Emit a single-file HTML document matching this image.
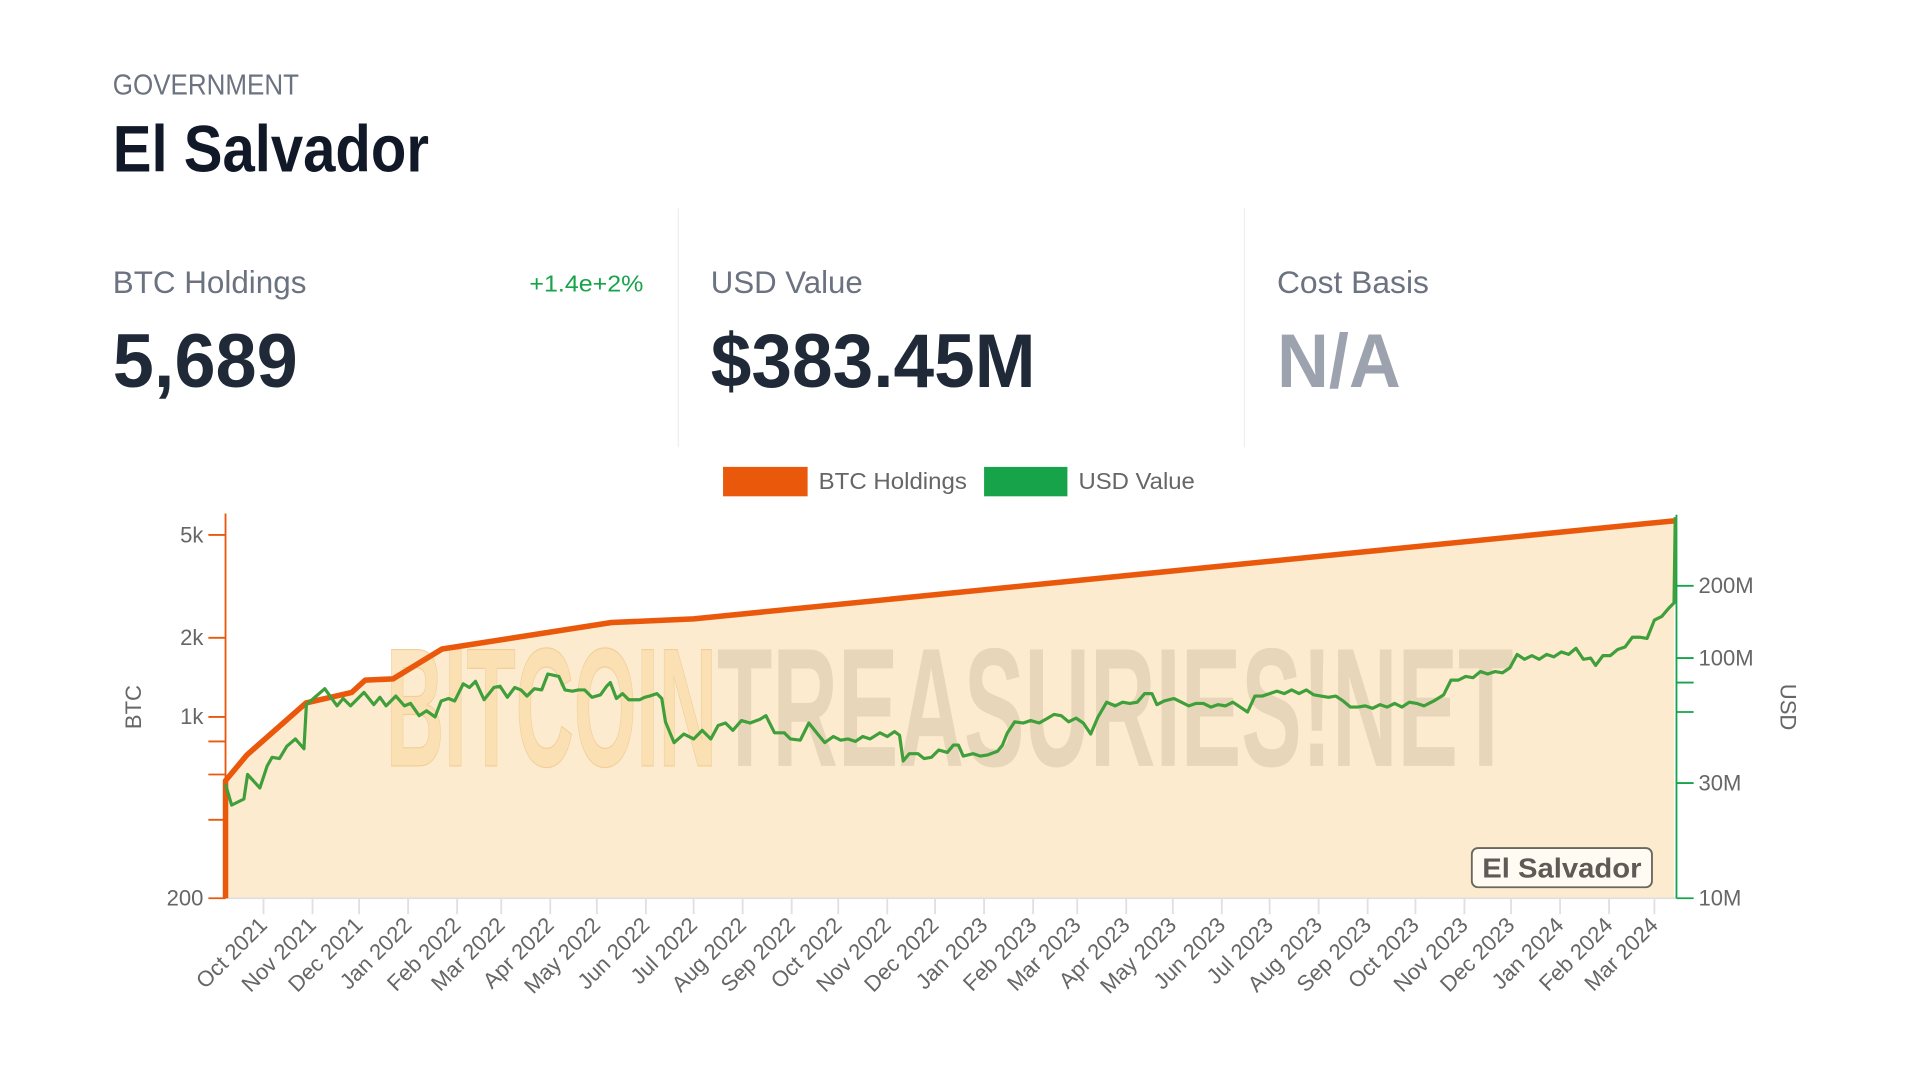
<!DOCTYPE html>
<html><head><meta charset="utf-8"><style>html,body{margin:0;padding:0;background:#fff;}svg{display:block;}</style></head>
<body>
<svg width="1920" height="1080" viewBox="0 0 1566.7 881.3" xmlns="http://www.w3.org/2000/svg" font-family="'Liberation Sans', sans-serif">
<rect width="1566.7" height="881.3" fill="#fff"/>
<text x="92" y="77" font-size="23.5" fill="#6b7280" textLength="152" lengthAdjust="spacingAndGlyphs">GOVERNMENT</text>
<text x="92" y="140" font-size="54" font-weight="bold" fill="#111827" textLength="258" lengthAdjust="spacingAndGlyphs">El Salvador</text>
<line x1="553.5" y1="170" x2="553.5" y2="365" stroke="#eceef1" stroke-width="1"/>
<line x1="1015.5" y1="170" x2="1015.5" y2="365" stroke="#eceef1" stroke-width="1"/>
<text x="92" y="239" font-size="26" fill="#6b7280" textLength="158" lengthAdjust="spacingAndGlyphs">BTC Holdings</text>
<text x="525" y="238" font-size="19" fill="#16a34a" text-anchor="end" textLength="93" lengthAdjust="spacingAndGlyphs">+1.4e+2%</text>
<text x="92" y="316" font-size="62" font-weight="bold" fill="#1f2937" textLength="151" lengthAdjust="spacingAndGlyphs">5,689</text>
<text x="580" y="239" font-size="26" fill="#6b7280" textLength="124" lengthAdjust="spacingAndGlyphs">USD Value</text>
<text x="580" y="316" font-size="62" font-weight="bold" fill="#1f2937" textLength="265" lengthAdjust="spacingAndGlyphs">$383.45M</text>
<text x="1042" y="239" font-size="26" fill="#6b7280" textLength="124" lengthAdjust="spacingAndGlyphs">Cost Basis</text>
<text x="1042" y="316" font-size="62" font-weight="bold" fill="#9ca3af" textLength="101" lengthAdjust="spacingAndGlyphs">N/A</text>
<rect x="590" y="381" width="69" height="24" fill="#ea580c"/>
<text x="668" y="399" font-size="19" fill="#666" textLength="121" lengthAdjust="spacingAndGlyphs">BTC Holdings</text>
<rect x="803" y="381" width="68" height="24" fill="#16a34a"/>
<text x="880" y="399" font-size="19" fill="#666" textLength="95" lengthAdjust="spacingAndGlyphs">USD Value</text>
<polygon fill="#fcebcf" points="184,733 184,637 201.5,616 249.7,573.6 287,565 298,555 320.7,554 360.7,529.6 499,508 566,505 1366,425 1366,733"/>
<g font-size="138" font-weight="bold">
<text x="315" y="625" fill="#fbdca8" fill-opacity="0.7" stroke="#f0cf9a" stroke-width="1" textLength="270" lengthAdjust="spacingAndGlyphs">BITCOIN</text>
<text x="585" y="625" fill="#d8c8ac" fill-opacity="0.6" textLength="650" lengthAdjust="spacingAndGlyphs">TREASURIES!NET</text>
</g>
<line x1="184" y1="733" x2="1368" y2="733" stroke="#e0e0e0" stroke-width="1.5"/>
<g stroke="#e0e0e0" stroke-width="1.5">
<line x1="215" y1="733" x2="215" y2="746"/><line x1="255" y1="733" x2="255" y2="746"/><line x1="293" y1="733" x2="293" y2="746"/><line x1="333" y1="733" x2="333" y2="746"/><line x1="373" y1="733" x2="373" y2="746"/><line x1="409" y1="733" x2="409" y2="746"/><line x1="449" y1="733" x2="449" y2="746"/><line x1="487" y1="733" x2="487" y2="746"/><line x1="527" y1="733" x2="527" y2="746"/><line x1="566" y1="733" x2="566" y2="746"/><line x1="606" y1="733" x2="606" y2="746"/><line x1="646" y1="733" x2="646" y2="746"/><line x1="684" y1="733" x2="684" y2="746"/><line x1="724" y1="733" x2="724" y2="746"/><line x1="763" y1="733" x2="763" y2="746"/><line x1="803" y1="733" x2="803" y2="746"/><line x1="843" y1="733" x2="843" y2="746"/><line x1="879" y1="733" x2="879" y2="746"/><line x1="919" y1="733" x2="919" y2="746"/><line x1="957" y1="733" x2="957" y2="746"/><line x1="997" y1="733" x2="997" y2="746"/><line x1="1036" y1="733" x2="1036" y2="746"/><line x1="1076" y1="733" x2="1076" y2="746"/><line x1="1116" y1="733" x2="1116" y2="746"/><line x1="1155" y1="733" x2="1155" y2="746"/><line x1="1195" y1="733" x2="1195" y2="746"/><line x1="1233" y1="733" x2="1233" y2="746"/><line x1="1273" y1="733" x2="1273" y2="746"/><line x1="1313" y1="733" x2="1313" y2="746"/><line x1="1350" y1="733" x2="1350" y2="746"/>
</g>
<g font-size="18" fill="#666" text-anchor="end">
<text transform="translate(219,756) rotate(-45)">Oct 2021</text>
<text transform="translate(259,756) rotate(-45)">Nov 2021</text>
<text transform="translate(297,756) rotate(-45)">Dec 2021</text>
<text transform="translate(337,756) rotate(-45)">Jan 2022</text>
<text transform="translate(377,756) rotate(-45)">Feb 2022</text>
<text transform="translate(413,756) rotate(-45)">Mar 2022</text>
<text transform="translate(453,756) rotate(-45)">Apr 2022</text>
<text transform="translate(491,756) rotate(-45)">May 2022</text>
<text transform="translate(531,756) rotate(-45)">Jun 2022</text>
<text transform="translate(570,756) rotate(-45)">Jul 2022</text>
<text transform="translate(610,756) rotate(-45)">Aug 2022</text>
<text transform="translate(650,756) rotate(-45)">Sep 2022</text>
<text transform="translate(688,756) rotate(-45)">Oct 2022</text>
<text transform="translate(728,756) rotate(-45)">Nov 2022</text>
<text transform="translate(767,756) rotate(-45)">Dec 2022</text>
<text transform="translate(807,756) rotate(-45)">Jan 2023</text>
<text transform="translate(847,756) rotate(-45)">Feb 2023</text>
<text transform="translate(883,756) rotate(-45)">Mar 2023</text>
<text transform="translate(923,756) rotate(-45)">Apr 2023</text>
<text transform="translate(961,756) rotate(-45)">May 2023</text>
<text transform="translate(1001,756) rotate(-45)">Jun 2023</text>
<text transform="translate(1040,756) rotate(-45)">Jul 2023</text>
<text transform="translate(1080,756) rotate(-45)">Aug 2023</text>
<text transform="translate(1120,756) rotate(-45)">Sep 2023</text>
<text transform="translate(1159,756) rotate(-45)">Oct 2023</text>
<text transform="translate(1199,756) rotate(-45)">Nov 2023</text>
<text transform="translate(1237,756) rotate(-45)">Dec 2023</text>
<text transform="translate(1277,756) rotate(-45)">Jan 2024</text>
<text transform="translate(1317,756) rotate(-45)">Feb 2024</text>
<text transform="translate(1354,756) rotate(-45)">Mar 2024</text>
</g>
<g stroke="#ea580c" stroke-width="1.5">
<line x1="184" y1="419" x2="184" y2="733"/>
<line x1="170" y1="436.5" x2="184" y2="436.5"/><line x1="170" y1="520.5" x2="184" y2="520.5"/><line x1="170" y1="585" x2="184" y2="585"/><line x1="170" y1="605" x2="184" y2="605"/><line x1="170" y1="632" x2="184" y2="632"/><line x1="170" y1="669" x2="184" y2="669"/><line x1="170" y1="733" x2="184" y2="733"/>
</g>
<g font-size="18" fill="#666" text-anchor="end">
<text x="166" y="442.5">5k</text><text x="166" y="526.5">2k</text><text x="166" y="591">1k</text><text x="166" y="739">200</text>
</g>
<text transform="translate(115,577) rotate(-90)" font-size="18" fill="#666" text-anchor="middle">BTC</text>
<g stroke="#16a34a" stroke-width="1.5">
<line x1="1368" y1="420" x2="1368" y2="733"/>
<line x1="1368" y1="478" x2="1382" y2="478"/><line x1="1368" y1="537" x2="1382" y2="537"/><line x1="1368" y1="557" x2="1382" y2="557"/><line x1="1368" y1="581" x2="1382" y2="581"/><line x1="1368" y1="639" x2="1382" y2="639"/><line x1="1368" y1="733" x2="1382" y2="733"/>
</g>
<g font-size="18" fill="#666">
<text x="1386" y="484">200M</text><text x="1386" y="543">100M</text><text x="1386" y="645">30M</text><text x="1386" y="739">10M</text>
</g>
<text transform="translate(1453,577) rotate(90)" font-size="18" fill="#666" text-anchor="middle">USD</text>
<polyline fill="none" stroke="#ea580c" stroke-width="4.5" stroke-linejoin="round" points="184,733 184,637 201.5,616 249.7,573.6 287,565 298,555 320.7,554 360.7,529.6 499,508 566,505 1366,425"/>
<polyline fill="none" stroke="#3f9f3a" stroke-width="2.6" stroke-linejoin="round" points="184,640 189,657 199,652 202,632 212,643 218,625 222,618 228,619 234,609 241,603 248,611 250,575 265,562 275,576 280,570 286,576 297,565 305,575 310,569 315,576 323,568 330,576 335,574 342,584 348,580 355,585 360,572 366,570 371,572 378,558 383,561 388,556 395,571 403,561 408,560 414,569 420,561 425,563 430,568 436,562 442,563 447,550 456,552 461,563 467,564 472,563 477,563 483,569 490,567 495,560 498,557 503,570 508,566 513,571 522,571 526,569 530,568 536,566 540,570 543,589 550,606 558,599 566,603 573,596 580,603 586,592 592,590 598,596 605,588 612,590 620,587 625,584 632,598 640,598 645,603 653,604 660,590 668,600 673,606 680,601 686,604 692,603 698,605 704,601 710,603 718,598 724,601 730,597 734,600 737,621 742,615 749,615 754,619 760,618 766,612 773,614 778,608 782,608 786,617 794,615 800,617 806,616 814,613 818,608 822,598 828,589 835,590 841,588 848,590 855,586 860,583 866,584 872,589 878,586 884,590 890,599 896,585 903,573 910,576 916,573 922,574 928,573 934,566 940,566 944,575 950,572 958,570 964,573 970,576 976,574 982,574 988,577 994,575 1000,576 1006,573 1012,577 1018,581 1024,568 1030,568 1036,566 1042,564 1048,566 1054,563 1060,566 1066,563 1072,567 1078,568 1084,569 1090,568 1096,572 1102,577 1108,577 1114,576 1120,578 1126,575 1132,577 1138,574 1144,577 1150,573 1156,574 1162,576 1170,572 1178,567 1184,555 1190,555 1196,552 1202,553 1208,548 1214,550 1220,548 1226,549 1232,545 1238,534 1244,538 1250,535 1256,538 1262,534 1268,536 1274,532 1280,534 1286,529 1292,538 1298,537 1302,543 1308,535 1314,535 1320,530 1326,528 1332,520 1338,520 1344,521 1350,506 1356,503 1362,496 1366,492 1367,422"/>
<rect x="1201" y="692" width="147" height="32" rx="5" fill="#fffaf2" stroke="#6b665f" stroke-width="1.5"/>
<text x="1274.5" y="716" font-size="23" font-weight="bold" fill="#5f5a55" text-anchor="middle" textLength="130" lengthAdjust="spacingAndGlyphs">El Salvador</text>
</svg>
</body></html>
